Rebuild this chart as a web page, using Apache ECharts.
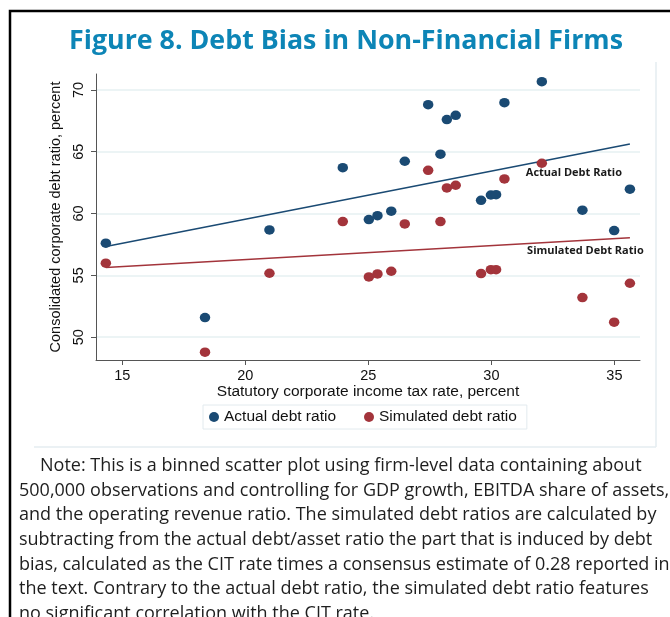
<!DOCTYPE html>
<html>
<head>
<meta charset="utf-8">
<script src="https://cdn.jsdelivr.net/npm/echarts@6/dist/echarts.min.js"></script>
<style>
  html, body { margin: 0; padding: 0; background: #fff; }
  #chart { width: 670px; height: 617px; }
</style>
</head>
<body>
<div id="chart"></div>
<script>
// binned scatter: CIT rate (x) vs debt ratios (y)
const taxRate = [14.33, 18.36, 20.98, 23.96, 25.02, 25.37, 25.93, 26.48, 27.43, 27.93,
                 28.19, 28.55, 29.58, 29.98, 30.19, 30.53, 32.05, 33.70, 34.99, 35.63];
const actualDebt = [57.60, 51.58, 58.67, 63.71, 59.51, 59.83, 60.19, 64.23, 68.81, 64.80,
                    67.60, 67.95, 61.07, 61.50, 61.53, 68.97, 70.67, 60.27, 58.62, 61.97];
const simulatedDebt = [55.98, 48.78, 55.17, 59.35, 54.87, 55.11, 55.33, 59.16, 63.50, 59.35,
                       62.07, 62.29, 55.14, 55.46, 55.46, 62.80, 64.07, 53.20, 51.21, 54.36];

// linear fit end points
const fitX = [14.33, 35.63];
const actualFit = [57.34, 65.63];
const simulatedFit = [55.64, 58.04];

const xTicks = [15, 20, 25, 30, 35];
const yTicks = [50, 55, 60, 65, 70];

const noteLines = [
  'Note: This is a binned scatter plot using firm-level data containing about',
  '500,000 observations and controlling for GDP growth, EBITDA share of assets,',
  'and the operating revenue ratio. The simulated debt ratios are calculated by',
  'subtracting from the actual debt/asset ratio the part that is induced by debt',
  'bias, calculated as the CIT rate times a consensus estimate of 0.28 reported in',
  'the text. Contrary to the actual debt ratio, the simulated debt ratio features',
  'no significant correlation with the CIT rate.'
];

const BLUE = '#1a4a73';
const RED = '#a3343b';
const axisFont = '"Liberation Sans", Arial, sans-serif';

const pairs = (xs, ys) => xs.map((x, i) => [x, ys[i]]);

const chart = echarts.init(document.getElementById('chart'));

const noteGraphics = noteLines.map((t, i) => ({
  type: 'text',
  x: i === 0 ? 40 : 19,
  y: 466 + i * 24.6,
  style: {
    text: t,
    fontFamily: '"Open Sans", sans-serif',
    fontSize: 18,
    fill: '#1e1e1e',
    verticalAlign: 'middle'
  }
}));

chart.setOption({
  animation: false,
  backgroundColor: '#fff',
  title: {
    text: 'Figure 8. Debt Bias in Non-Financial Firms',
    left: 64,
    top: 23,
    textStyle: {
      fontFamily: '"Open Sans", sans-serif',
      fontWeight: 'bold',
      fontSize: 26.8,
      color: '#0d85b6'
    }
  },
  grid: { left: 96, top: 74, width: 544, height: 286, containLabel: false },
  legend: {
    data: ['Actual debt ratio', 'Simulated debt ratio'],
    left: 203,
    top: 405,
    icon: 'circle',
    itemWidth: 10,
    itemHeight: 10,
    itemGap: 28,
    padding: [4, 10, 4, 6],
    borderColor: '#e2eaee',
    borderWidth: 1,
    textStyle: { fontFamily: axisFont, fontSize: 15.5, color: '#111' }
  },
  xAxis: {
    type: 'value',
    min: 13.93,
    max: 36.04,
    name: 'Statutory corporate income tax rate, percent',
    nameLocation: 'middle',
    nameGap: 19,
    nameTextStyle: { fontFamily: axisFont, fontSize: 15.5, color: '#111' },
    axisLine: { show: true, onZero: false, lineStyle: { color: '#555', width: 1 } },
    axisTick: { show: true, length: 5, customValues: xTicks, lineStyle: { color: '#555' } },
    axisLabel: { customValues: xTicks, margin: 8, fontFamily: axisFont, fontSize: 14.5, color: '#111' },
    splitLine: { show: false }
  },
  yAxis: {
    type: 'value',
    min: 48.15,
    max: 71.29,
    name: 'Consolidated corporate debt ratio, percent',
    nameLocation: 'middle',
    nameRotate: 90,
    nameGap: 32,
    nameTextStyle: { fontFamily: axisFont, fontSize: 14.5, color: '#111' },
    axisLine: { show: true, onZero: false, lineStyle: { color: '#555', width: 1 } },
    axisTick: { show: true, length: 5, customValues: yTicks, lineStyle: { color: '#555' } },
    axisLabel: { customValues: yTicks, rotate: 90, margin: 10, fontFamily: axisFont, fontSize: 14.5, color: '#111' },
    splitLine: { show: true, lineStyle: { color: '#e6f0f2', width: 1.5 } }
  },
  series: [
    {
      name: 'Actual fit',
      type: 'line',
      data: pairs(fitX, actualFit),
      showSymbol: false,
      lineStyle: { color: BLUE, width: 1.5 },
      z: 2,
      markPoint: {
        symbol: 'circle',
        symbolSize: 0,
        data: [{ coord: [31.4, 63.26] }],
        label: {
          show: true, position: 'right', distance: 0,
          formatter: 'Actual Debt Ratio',
          fontFamily: '"Open Sans", sans-serif', fontWeight: 'bold', fontSize: 11, color: '#1a1a1a'
        }
      }
    },
    {
      name: 'Simulated fit',
      type: 'line',
      data: pairs(fitX, simulatedFit),
      showSymbol: false,
      lineStyle: { color: RED, width: 1.5 },
      z: 2,
      markPoint: {
        symbol: 'circle',
        symbolSize: 0,
        data: [{ coord: [31.45, 56.97] }],
        label: {
          show: true, position: 'right', distance: 0,
          formatter: 'Simulated Debt Ratio',
          fontFamily: '"Open Sans", sans-serif', fontWeight: 'bold', fontSize: 11, color: '#1a1a1a'
        }
      }
    },
    {
      name: 'Actual debt ratio',
      type: 'scatter',
      data: pairs(taxRate, actualDebt),
      symbol: 'circle',
      symbolSize: [10.5, 9.5],
      itemStyle: { color: BLUE, opacity: 1 },
      z: 3
    },
    {
      name: 'Simulated debt ratio',
      type: 'scatter',
      data: pairs(taxRate, simulatedDebt),
      symbol: 'circle',
      symbolSize: [10.5, 9.5],
      itemStyle: { color: RED, opacity: 1 },
      z: 3
    }
  ],
  graphic: [
    // outer black frame (cut at right/bottom edges)
    { type: 'rect', shape: { x: 10, y: 11, width: 700, height: 700 },
      style: { fill: null, stroke: '#000', lineWidth: 2.5 }, silent: true },
    // faint plot-region border
    { type: 'line', shape: { x1: 656, y1: 62, x2: 656, y2: 447 },
      style: { stroke: '#e4edf1', lineWidth: 1.5 }, silent: true },
    { type: 'line', shape: { x1: 34, y1: 447, x2: 656, y2: 447 },
      style: { stroke: '#e4edf1', lineWidth: 1.5 }, silent: true },
    ...noteGraphics
  ]
});
</script>
</body>
</html>
